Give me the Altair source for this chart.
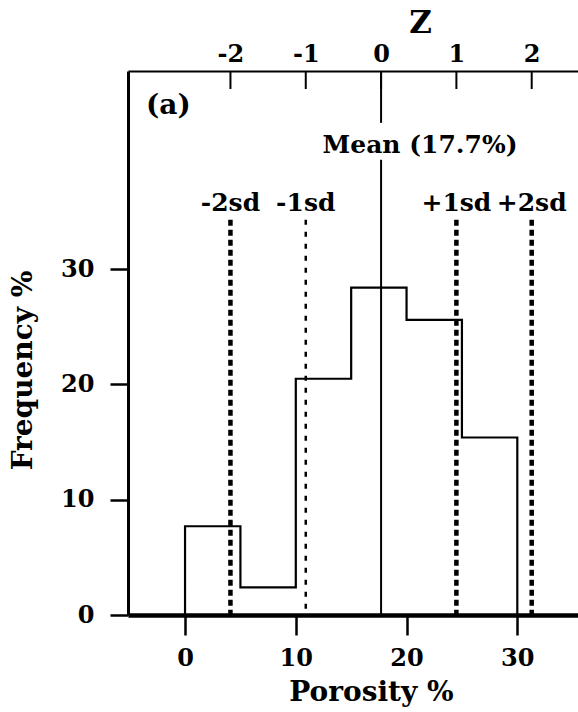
import altair as alt
import pandas as pd

# ---- data ----
bin_edges = [0, 5, 10, 15, 20, 25, 30]
freq = [7.7, 2.4, 20.5, 28.4, 25.6, 15.4]
mean = 17.7
sd = 6.8
sd_k = [-2, -1, 1, 2]
sd_labels = ["-2sd", "-1sd", "+1sd", "+2sd"]
z_ticks = [-2, -1, 0, 1, 2]
x_ticks = [0, 10, 20, 30]
y_ticks = [0, 10, 20, 30]

X_DOMAIN = [-5.15, 35.48]
Y_DOMAIN = [0, 47.2]
Z_DOMAIN = [(X_DOMAIN[0] - mean) / sd, (X_DOMAIN[1] - mean) / sd]

FONT = "DejaVu Serif"
FS = 24
TFS = 28

# step outline points
pts = [{"i": 0, "x": bin_edges[0], "y": 0}]
for j, f in enumerate(freq):
    pts.append({"i": j + 1, "x": bin_edges[j], "y": f})
pts.append({"i": len(freq) + 1, "x": bin_edges[-1], "y": 0})
hist_df = pd.DataFrame(pts)

sd_df = pd.DataFrame({"k": sd_k, "label": sd_labels})
sd_df["x"] = mean + sd_df["k"] * sd
sd_df["y"] = 34.3
sd_df["ylab"] = 35.05

mean_df = pd.DataFrame({"x": [mean, mean], "y": [0, 42.7], "y2": [39.5, 47.2]})
meantxt_df = pd.DataFrame({"x": [mean], "y": [40.8], "label": ["Mean (17.7%)"]})
z_df = pd.DataFrame({"z": z_ticks})

xscale = alt.Scale(domain=X_DOMAIN, nice=False, zero=False)
yscale = alt.Scale(domain=Y_DOMAIN, nice=False)

xaxis = alt.Axis(orient="bottom", values=x_ticks, title="Porosity %",
                 domainWidth=4.5, tickWidth=2.5, tickSize=20,
                 labelPadding=11, titleX=243, titleY=77,
                 titleBaseline="middle", titleAlign="center",
                 titleAnchor="start")
yaxis = alt.Axis(orient="left", values=y_ticks, title="Frequency %",
                 domainWidth=3, tickWidth=2.5, tickSize=18,
                 labelPadding=16, titleX=-105, titleY=299,
                 titleAngle=-90, titleBaseline="middle",
                 titleAlign="center", titleAnchor="start")


def X(f):
    return alt.X(f, scale=xscale, axis=xaxis)


def Y(f):
    return alt.Y(f, scale=yscale, axis=yaxis)


hist = alt.Chart(hist_df).mark_line(
    interpolate="step-after", color="black", strokeWidth=2.2
).encode(x=X("x:Q"), y=Y("y:Q"), order="i:Q")

sd_thick = alt.Chart(sd_df).transform_filter(alt.datum.k != -1).mark_rule(
    color="black", strokeWidth=4.5, strokeDash=[6, 4]
).encode(x=X("x:Q"), y=Y("y:Q"), y2=alt.value(544))

sd_thin = alt.Chart(sd_df).transform_filter(alt.datum.k == -1).mark_rule(
    color="black", strokeWidth=2.5, strokeDash=[5, 7]
).encode(x=X("x:Q"), y=Y("y:Q"), y2=alt.value(544))

sd_text = alt.Chart(sd_df).mark_text(
    font=FONT, fontWeight="bold", fontSize=25, baseline="alphabetic",
    align="center", color="black"
).encode(x=X("x:Q"), y=Y("ylab:Q"), text="label:N")

mean_rule = alt.Chart(mean_df).mark_rule(color="black", strokeWidth=2).encode(
    x=X("x:Q"), y=Y("y:Q"), y2="y2:Q")

mean_text = alt.Chart(meantxt_df).mark_text(
    font=FONT, fontWeight="bold", fontSize=25, baseline="middle",
    align="center", dx=39, color="black"
).encode(x=X("x:Q"), y=Y("y:Q"), text="label:N")

panel = alt.Chart(pd.DataFrame({"t": ["(a)"]})).mark_text(
    font=FONT, fontWeight="bold", fontSize=28, baseline="middle",
    align="left", color="black"
).encode(x=alt.value(18), y=alt.value(35), text="t:N")

main = alt.layer(hist, sd_thick, sd_thin, sd_text, mean_rule, mean_text, panel)

ztop = alt.Chart(z_df).mark_rule(color="black", strokeWidth=2).encode(
    x=alt.X("z:Q", scale=alt.Scale(domain=Z_DOMAIN, nice=False, zero=False),
            axis=alt.Axis(orient="top", values=z_ticks, title="Z",
                          labelExpr="datum.value < 0 ? '-' + abs(datum.value) : '' + datum.value",
                          ticks=False, tickSize=0, domainWidth=2,
                          labelPadding=5, titleX=292, titleY=-48,
                          titleBaseline="middle", titleAlign="center",
                          titleAnchor="start", titleFontSize=31)),
    y=alt.value(0), y2=alt.value(18),
)

chart = alt.layer(main, ztop).resolve_scale(x="independent").properties(
    width=450, height=544,
    autosize=alt.AutoSizeParams(type="none"),
    padding={"left": 128, "top": 71, "right": 0, "bottom": 97},
    background="white",
).configure_view(stroke=None).configure_axis(
    grid=False, domainColor="black", tickColor="black", labelColor="black",
    titleColor="black", labelFont=FONT, titleFont=FONT, labelFontWeight="bold",
    titleFontWeight="bold", labelFontSize=FS, titleFontSize=TFS,
)

chart.save("out.html", embed_options={"renderer": "svg", "actions": False})
